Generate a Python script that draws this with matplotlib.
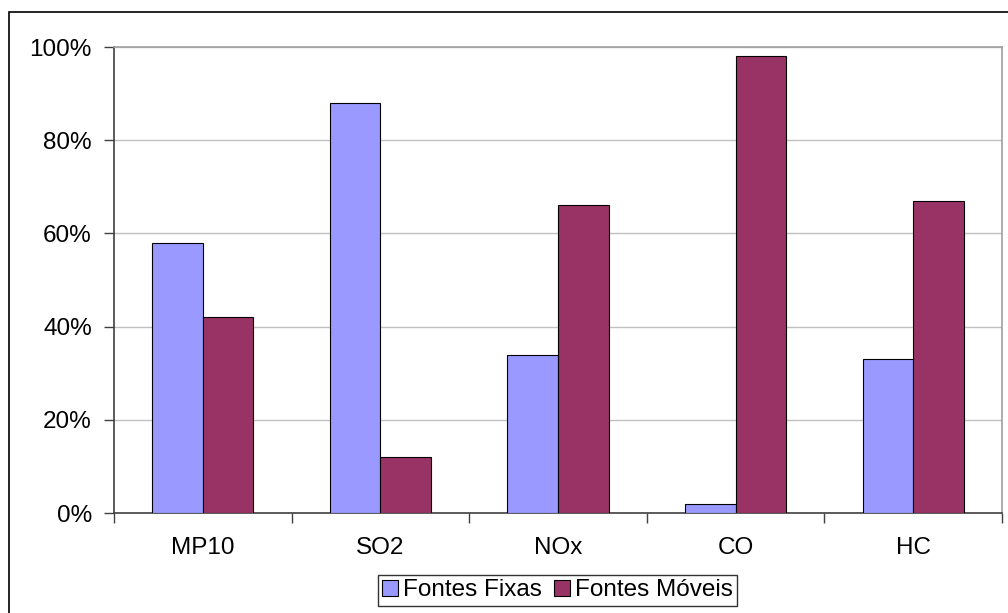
import numpy as np
import matplotlib.pyplot as plt
from matplotlib.patches import Rectangle

# data
categories = ["MP10", "SO2", "NOx", "CO", "HC"]
fontes_fixas = [58, 88, 34, 2, 33]
fontes_moveis = [42, 12, 66, 98, 67]
series_labels = ["Fontes Fixas", "Fontes Móveis"]
y_ticks = [0, 20, 40, 60, 80, 100]

plt.rcParams["font.family"] = ["Liberation Sans", "DejaVu Sans"]
plt.rcParams["font.size"] = 17.5

fig = plt.figure(figsize=(10.08, 6.13), dpi=100)
ax = fig.add_axes([114 / 1008, 100 / 613, 888 / 1008, 466 / 613])

x = np.arange(len(categories))
w = 0.285
ax.bar(x - w / 2, fontes_fixas, w, color="#9999FF", edgecolor="black",
       linewidth=0.8, label=series_labels[0], zorder=3)
ax.bar(x + w / 2, fontes_moveis, w, color="#993366", edgecolor="black",
       linewidth=0.8, label=series_labels[1], zorder=3)

ax.set_xlim(-0.5, len(categories) - 0.5)
ax.set_ylim(0, 100)

# y axis
ax.set_yticks(y_ticks)
ax.set_yticklabels([f"{v}%" for v in y_ticks])
ax.tick_params(axis="y", direction="out", length=7, width=1, pad=9,
               color="#404040")
ax.yaxis.grid(True, color="#c0c0c0", linewidth=1, zorder=0)

# x axis: boundary ticks, labels at centres
ax.set_xticks(np.arange(len(categories) + 1) - 0.5)
ax.set_xticklabels([])
ax.set_xticks(x, minor=True)
ax.set_xticklabels(categories, minor=True)
ax.tick_params(axis="x", which="major", direction="out", length=7, width=1,
               color="#404040")
ax.tick_params(axis="x", which="minor", length=0, pad=17)

for s in ["left", "bottom"]:
    ax.spines[s].set_color("#404040")
    ax.spines[s].set_linewidth(1.2)
for s in ["top", "right"]:
    ax.spines[s].set_color("#a0a0a0")
    ax.spines[s].set_linewidth(1.2)

leg = fig.legend(loc="center", bbox_to_anchor=(557.5 / 1008, 22.5 / 613),
                 ncol=2, frameon=True, fancybox=False, shadow=False,
                 handlelength=0.65, handleheight=0.65, handletextpad=0.2,
                 columnspacing=0.5, borderpad=0.2, borderaxespad=0,
                 fontsize=17.5)
leg.get_frame().set_edgecolor("black")
leg.get_frame().set_linewidth(1)

# outer chart border
fig.patches.append(Rectangle((9 / 1008, -0.05), 1.1, 1 - 12 / 613 + 0.05,
                             transform=fig.transFigure, fill=False,
                             edgecolor="black", linewidth=1.2))

fig.savefig("out.png", dpi=100)
